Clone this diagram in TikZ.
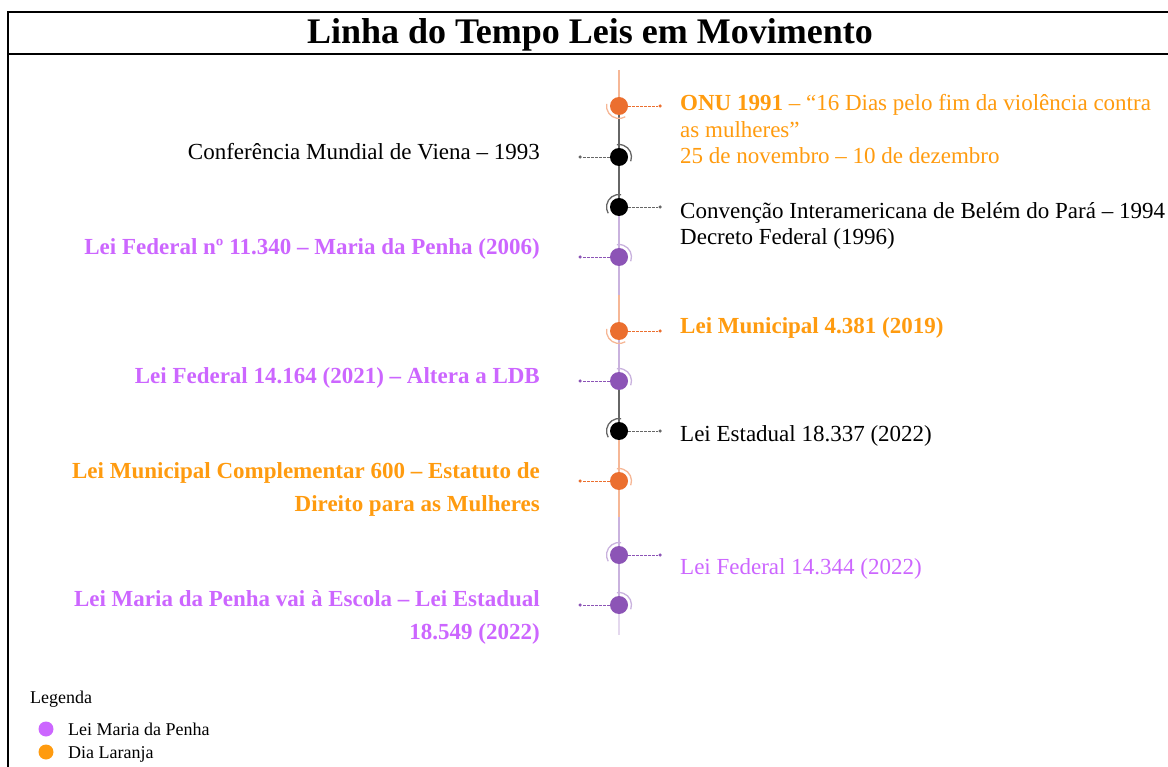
\documentclass[tikz,border=0pt]{standalone}
\usepackage{fontspec}
\setmainfont{Liberation Serif}
\usetikzlibrary{backgrounds}
\definecolor{laranja}{HTML}{EB6F2F}
\definecolor{laranjaclaro}{HTML}{F6B796}
\definecolor{laranjatexto}{HTML}{FF9B0F}
\definecolor{roxo}{HTML}{8C54B6}
\definecolor{roxoclaro}{HTML}{C9B2DE}
\definecolor{roxotexto}{HTML}{CC66FF}
\definecolor{cinza}{HTML}{666666}

\begin{document}
\begin{tikzpicture}[x=1pt, y=1pt,
    marco/.style={circle, minimum size=18pt, inner sep=0pt},
    ponta/.style={circle, fill, minimum size=3.5pt, inner sep=0pt},
    haste/.style={dash pattern=on 2.5pt off 1.5pt, line width=0.9pt},
    anel/.style={line width=1.3pt},
    eixo/.style={line width=1.5pt},
    rotulo/.style={inner sep=0pt, font=\fontsize{23}{26.5}\selectfont},
    dir/.style={rotulo, anchor=base west, align=left},
    esq/.style={rotulo, anchor=base east, align=right},
    negrito/.style={font=\fontsize{23}{33}\selectfont\bfseries},
    legtxt/.style={inner sep=0pt, anchor=base west, font=\fontsize{18}{20}\selectfont},
    ]
    \useasboundingbox (0,0) rectangle (1168,-767);
    \draw [line width=1.5pt] (1168,-12) -- (8,-12) -- (8,-767);
    \draw [line width=1.5pt] (8,-54) -- (1168,-54);
    \node [anchor=base, inner sep=0pt, font=\fontsize{36}{40}\selectfont\bfseries] (titulo) at (590,-44) {Linha do Tempo Leis em Movimento};

    \node [marco, fill=laranja] (n1) at (619,-106) {};
    \node [marco, fill=black] (n2) at (619,-157) {};
    \node [marco, fill=black] (n3) at (619,-207) {};
    \node [marco, fill=roxo] (n4) at (619,-257) {};
    \node [marco, fill=laranja] (n5) at (619,-331) {};
    \node [marco, fill=roxo] (n6) at (619,-381) {};
    \node [marco, fill=black] (n7) at (619,-431) {};
    \node [marco, fill=laranja] (n8) at (619,-481) {};
    \node [marco, fill=roxo] (n9) at (619,-555) {};
    \node [marco, fill=roxo] (n10) at (619,-605) {};

    \coordinate (topo) at (619,-70);
    \coordinate (meio1) at (619,-295);
    \coordinate (meio2) at (619,-517);
    \coordinate (fim) at (619,-635);
    \begin{scope}[on background layer]
        \draw [eixo, laranjaclaro] (topo) -- (n1);
        \draw [eixo, cinza] (n1) -- (n2);
        \draw [eixo, cinza] (n2) -- (n3);
        \draw [eixo, roxoclaro] (n3) -- (n4);
        \draw [eixo, roxoclaro] (n4) -- (meio1);
        \draw [eixo, laranjaclaro] (meio1) -- (n5);
        \draw [eixo, roxoclaro] (n5) -- (n6);
        \draw [eixo, cinza] (n6) -- (n7);
        \draw [eixo, laranjaclaro] (n7) -- (n8);
        \draw [eixo, laranjaclaro] (n8) -- (meio2);
        \draw [eixo, roxoclaro] (meio2) -- (n9);
        \draw [eixo, roxoclaro] (n9) -- (n10);
        \draw [eixo, roxoclaro!50] (n10) -- (fim);
    \end{scope}

    \draw [anel, laranjaclaro] (n1.center) ++(170:12.5) arc [start angle=170, end angle=300, radius=12.5];
    \draw [anel, cinza] (n2.center) ++(-20:12.5) arc [start angle=-20, end angle=100, radius=12.5];
    \draw [anel, cinza] (n3.center) ++(80:12.5) arc [start angle=80, end angle=210, radius=12.5];
    \draw [anel, roxoclaro] (n4.center) ++(-20:12.5) arc [start angle=-20, end angle=100, radius=12.5];
    \draw [anel, laranjaclaro] (n5.center) ++(170:12.5) arc [start angle=170, end angle=300, radius=12.5];
    \draw [anel, roxoclaro] (n6.center) ++(-20:12.5) arc [start angle=-20, end angle=100, radius=12.5];
    \draw [anel, cinza] (n7.center) ++(80:12.5) arc [start angle=80, end angle=210, radius=12.5];
    \draw [anel, laranjaclaro] (n8.center) ++(-20:12.5) arc [start angle=-20, end angle=100, radius=12.5];
    \draw [anel, roxoclaro] (n9.center) ++(80:12.5) arc [start angle=80, end angle=210, radius=12.5];
    \draw [anel, roxoclaro] (n10.center) ++(-20:12.5) arc [start angle=-20, end angle=100, radius=12.5];

    \node [ponta, laranja] (e1) at (660,-106) {};
    \node [ponta, cinza] (e2) at (580,-157) {};
    \node [ponta, cinza] (e3) at (660,-207) {};
    \node [ponta, roxo] (e4) at (580,-257) {};
    \node [ponta, laranja] (e5) at (660,-331) {};
    \node [ponta, roxo] (e6) at (580,-381) {};
    \node [ponta, cinza] (e7) at (660,-431) {};
    \node [ponta, laranja] (e8) at (580,-481) {};
    \node [ponta, roxo] (e9) at (660,-555) {};
    \node [ponta, roxo] (e10) at (580,-605) {};
    \draw [haste, laranja] (n1) -- (e1);
    \draw [haste, cinza] (n2) -- (e2);
    \draw [haste, cinza] (n3) -- (e3);
    \draw [haste, roxo] (n4) -- (e4);
    \draw [haste, laranja] (n5) -- (e5);
    \draw [haste, roxo] (n6) -- (e6);
    \draw [haste, cinza] (n7) -- (e7);
    \draw [haste, laranja] (n8) -- (e8);
    \draw [haste, roxo] (n9) -- (e9);
    \draw [haste, roxo] (n10) -- (e10);

    \node [dir, text=laranjatexto] (t1) at (680,-164) {\textbf{ONU 1991} – “16 Dias pelo fim da violência contra\\as mulheres”\\25 de novembro – 10 de dezembro};
    \node [esq] (t2) at (540,-160) {Conferência Mundial de Viena – 1993};
    \node [dir] (t3) at (680,-245) {Convenção Interamericana de Belém do Pará – 1994\\Decreto Federal (1996)};
    \node [esq, negrito, text=roxotexto] (t4) at (540,-255) {Lei Federal nº 11.340 – Maria da Penha (2006)};
    \node [dir, negrito, text=laranjatexto] (t5) at (680,-334) {Lei Municipal 4.381 (2019)};
    \node [esq, negrito, text=roxotexto] (t6) at (540,-384) {Lei Federal 14.164 (2021) – Altera a LDB};
    \node [dir] (t7) at (680,-441) {Lei Estadual 18.337 (2022)};
    \node [esq, negrito, text=laranjatexto] (t8) at (540,-511) {Lei Municipal Complementar 600 – Estatuto de\\Direito para as Mulheres};
    \node [dir, text=roxotexto] (t9) at (680,-574) {Lei Federal 14.344 (2022)};
    \node [esq, negrito, text=roxotexto] (t10) at (540,-639) {Lei Maria da Penha vai à Escola – Lei Estadual\\18.549 (2022)};

    \node [legtxt] (legenda) at (30,-703) {Legenda};
    \node [circle, fill=roxotexto, minimum size=15pt, inner sep=0pt] (lg1) at (46,-729) {};
    \node [circle, fill=laranjatexto, minimum size=15pt, inner sep=0pt] (lg2) at (46,-752) {};
    \node [legtxt] (lt1) at (68,-735) {Lei Maria da Penha};
    \node [legtxt] (lt2) at (68,-758) {Dia Laranja};
\end{tikzpicture}
\end{document}
